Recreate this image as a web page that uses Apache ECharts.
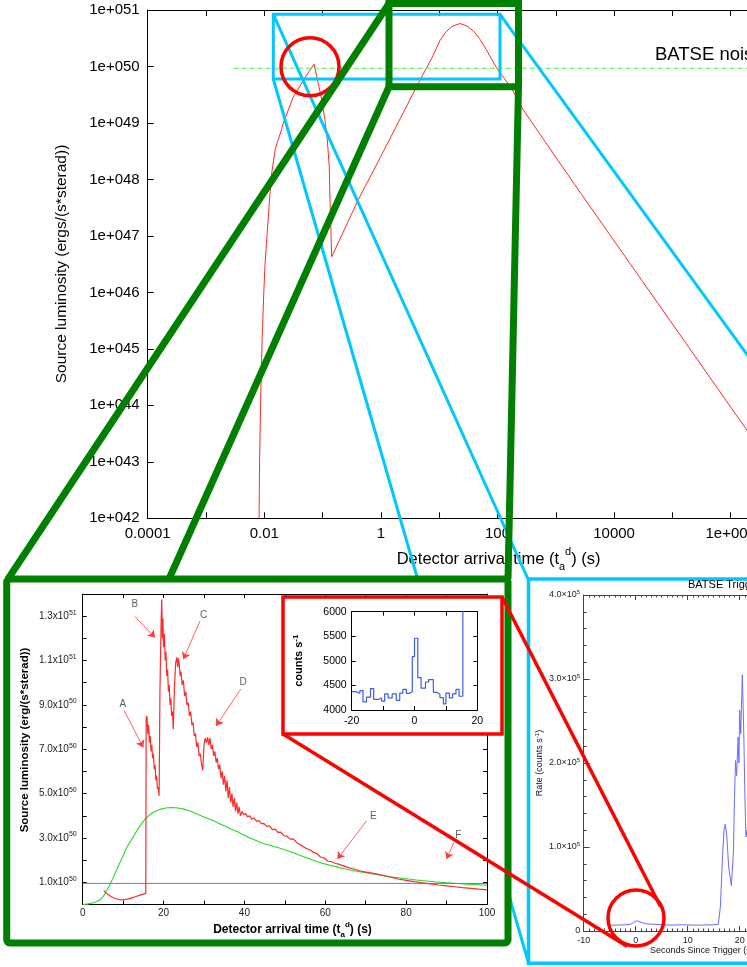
<!DOCTYPE html>
<html><head><meta charset="utf-8">
<script src="https://cdn.jsdelivr.net/npm/echarts@6/dist/echarts.min.js"></script>
<style>html,body{margin:0;padding:0;background:#fff;overflow:hidden}#c{width:747px;height:967px}</style>
</head><body><div id="c"></div>
<script>
const FONT = '"Liberation Sans", Arial, Helvetica, sans-serif';

// ---------- Main log-log chart (axes in decades: log10 of seconds / of luminosity) ----------
const mainXMinExp = -4, mainXMaxExp = 8;
const mainYMinExp = 42, mainYMaxExp = 51;
const mainCurveX = [0.0081, 0.0083, 0.0087, 0.0092, 0.0098, 0.0103, 0.011, 0.0122, 0.0134, 0.0155, 0.02, 0.0212, 0.0314, 0.0533, 0.0713, 0.0843, 0.0966, 0.110, 0.1205, 0.130, 0.134, 0.139, 0.143,
  0.409, 1.0, 4.69, 7.5, 10.3, 13, 16.6, 22.7, 29.5, 38.5, 50.1, 65, 97, 175, 277, 2780, 1.9e6, 2.4e7, 5e7];
const mainCurveLogY = [41.8, 43.0, 44.2, 45.2, 46.0, 46.5, 46.93, 47.6, 48.11, 48.55, 48.9, 49.0, 49.46, 49.85, 50.04, 49.70, 49.41, 49.05, 48.70, 48.23, 47.64, 47.1, 46.63,
  47.64, 48.41, 49.76, 50.15, 50.46, 50.61, 50.71, 50.76, 50.72, 50.63, 50.48, 50.29, 49.97, 49.61, 49.23, 47.73, 43.56, 42.0, 41.6];
const noiseLevel = 9.3e49;
const noiseLineX = [0.003, 1e8];
const noiseLabel = 'BATSE noise level';

// ---------- Green inset (linear) : luminosity in units of 1e50 ----------
const insetRedX = [5.2,6,7,8,9,10,11,12,13,14,15,15.6,
  15.7,15.9,16.1,16.3,16.5,16.7,16.9,17.1,17.3,17.5,17.7,17.9,18.1,18.3,18.5,18.7,18.9,
  19.1,19.4,19.55,19.7,19.85,20.0,20.2,20.4,20.6,20.8,21.0,21.2,21.4,21.6,21.8,22.0,22.2,22.4,
  22.7,23.0,23.3,23.5,23.7,23.9,24.1,24.3,24.6,24.9,25.2,25.5,25.8,26.1,26.4,26.7,27.0,27.3,27.6,27.9,28.2,28.5,28.8,29.1,29.4,29.7,
  30.0,30.3,30.6,30.9,31.2,31.5,31.8,32.1,32.4,32.7,33.0,33.3,33.6,33.9,34.2,34.5,34.8,35.1,35.4,35.7,36.0,36.3,36.6,36.9,37.2,37.5,37.8,38.1,38.4,38.7,39.0,39.4,39.8,40.3,40.8,41.3,41.8,42.4,43.0,43.6,44.2,44.8,45.5,46.2,46.9,47.6,48.3,49.0,49.7,50.5,51.3,52.1,52.9,53.7,54.5,55.3,56.1,57.0,57.9,58.8,59.7,60.6,61.5,62.4,63.3,64.5,65.7,67,68.5,70,72,74,76,78,80,82,84,86,88,90,92,94,96,98,100];
const insetRedY = [0.62,0.48,0.36,0.27,0.22,0.21,0.24,0.29,0.35,0.41,0.47,0.5,
  8.4,8.5,7.7,8.1,7.3,7.6,6.9,7.2,6.6,6.8,6.1,6.3,5.6,5.8,5.2,5.3,4.9,
  9.5,12.8,13.75,12.0,12.9,11.6,12.2,11.0,11.4,10.3,10.6,9.6,9.9,9.0,9.3,8.5,8.7,7.9,
  9.8,10.9,11.15,10.7,11.1,10.8,10.3,10.5,9.9,10.1,9.4,9.6,9.0,9.1,8.5,8.7,8.1,8.2,7.6,7.7,7.1,7.3,6.7,6.8,6.3,6.05,
  7.2,7.5,7.3,7.55,7.2,7.5,7.0,7.2,6.7,6.9,6.4,6.6,6.1,6.3,5.7,6.0,5.4,5.8,5.1,5.6,4.8,5.3,4.6,5.0,4.4,4.8,4.2,4.6,4.1,4.4,4.0,4.2,4.05,4.1,3.95,4.0,3.85,3.9,3.75,3.78,3.65,3.66,3.52,3.55,3.38,3.4,3.25,3.26,3.1,3.08,2.95,2.96,2.8,2.7,2.62,2.52,2.48,2.36,2.3,2.14,2.1,1.96,1.93,1.86,1.82,1.74,1.66,1.6,1.52,1.46,1.4,1.33,1.24,1.15,1.09,1.03,0.98,0.93,0.88,0.84,0.8,0.76,0.73,0.69,0.66,0.63,0.6];
const insetGreenX = [0,2,4,5,6,7,8,9,10,11,12,13,14,15,16,17,18,19,20,21,22,23,24,26,28,30,32,34,36,38,40,42,44,46,48,50,52,54,56,58,60,65,70,75,80,85,90,95,100];
const insetGreenY = [0,0.05,0.18,0.35,0.65,1.0,1.4,1.8,2.2,2.6,2.9,3.2,3.5,3.75,3.95,4.1,4.2,4.28,4.33,4.36,4.37,4.36,4.34,4.25,4.1,3.95,3.8,3.63,3.46,3.3,3.12,2.95,2.8,2.68,2.58,2.46,2.34,2.2,2.07,1.93,1.82,1.6,1.43,1.28,1.16,1.06,0.98,0.92,0.87];
const insetBlueX = [0, 100];
const insetBlueLevel = 0.95;
const annotLetters = ['A','B','C','D','E','F'];
const annotLetterX = [9.9, 12.9, 29.9, 39.7, 71.9, 92.9];
const annotLetterY = [9.03, 13.54, 13.04, 10.0, 3.97, 3.1];
const arrowFromX = [10.2, 12.9, 29.0, 39.1, 70.2, 91.8];
const arrowFromY = [8.76, 12.98, 12.78, 9.71, 3.77, 2.80];
const arrowToX = [15.0, 17.9, 24.9, 33.0, 63.0, 90.0];
const arrowToY = [7.08, 12.04, 11.06, 8.05, 2.05, 2.05];

// ---------- Counts inset (step histogram) ----------
const countsT = [-20.0,-18.7,-17.4,-16.4,-15.3,-14.0,-13.0,-11.6,-10.5,-9.5,-8.4,-7.1,-5.8,-4.7,-3.7,-2.6,-1.6,-0.7,0.0,1.05,2.1,3.5,4.5,6.0,7.1,8.1,9.2,10.0,11.1,12.1,13.2,14.2,15.4];
const countsV = [4374,4340,4395,4165,4260,4435,4215,4245,4180,4330,4245,4330,4195,4345,4420,4340,4375,5085,5460,4660,4445,4570,4620,4360,4320,4250,4125,4345,4245,4330,4420,4280,6500];

// ---------- BATSE trigger panel : rate in units of 1e5 counts/s ----------
const batseT = [-4.8,-3.5,-2,-1,-0.4,0.1,0.6,1.2,2,3.5,5,7,9,11,13,15,15.9,16.3,16.7,17.0,17.2,17.5,17.9,18.4,18.8,19.0,19.2,19.4,19.7,19.85,20.0,20.2,20.5,20.65,20.8,21.0,21.2,21.4,21.6];
const batseRate = [0.07,0.07,0.075,0.08,0.1,0.12,0.115,0.1,0.085,0.08,0.075,0.07,0.075,0.07,0.07,0.075,0.08,0.3,0.9,1.2,1.27,1.15,0.75,0.54,0.95,1.6,2.03,1.85,2.31,2.0,2.63,2.35,3.05,2.7,2.31,1.6,1.12,1.2,1.05];

// ---------- helpers ----------
function mainXLabel(e){
  e = Math.round(e);
  if (e % 2 !== 0) return '';
  if (e < 0) return Math.pow(10, e).toFixed(-e);
  if (e < 6) return String(Math.round(Math.pow(10, e)));
  return '1e+' + String(e).padStart(3, '0');
}
function mainYLabel(e){
  return '1e+' + String(Math.round(e)).padStart(3, '0');
}
function insetYLabel(v){
  const n = Math.round(v);
  if (n % 2 === 0) return '';
  if (n < 10) return '{m|' + n + '.0x10}{s|50}';
  return '{m|' + (n / 10).toFixed(1) + 'x10}{s|51}';
}
function batseYLabel(v){
  const n = Math.round(v);
  if (n === 0) return '0';
  return '{m|' + n.toFixed(1) + '\u00d710}{s|5}';
}

const RED = '#ff0000', GREEN = '#008000', CYAN = '#00c8ff';

function frameAxis(extra){
  return Object.assign({axisLine:{show:true, onZero:false, lineStyle:{color:'#000', width:1}}, splitLine:{show:false}}, extra);
}

const xAxes = [
  frameAxis({gridIndex:0, type:'value', min:mainXMinExp, max:mainXMaxExp, interval:1, zlevel:0,
    axisTick:{show:true, inside:true, length:6, lineStyle:{color:'#000'}},
    axisLabel:{show:true, margin:8, fontSize:15, color:'#000', fontFamily:FONT, formatter:mainXLabel, showMinLabel:true}}),
  frameAxis({gridIndex:0, type:'value', min:mainXMinExp, max:mainXMaxExp, interval:1, position:'top', zlevel:0,
    axisTick:{show:true, inside:true, length:6, lineStyle:{color:'#000'}}, axisLabel:{show:false}}),
  frameAxis({gridIndex:1, type:'value', min:0, max:100, interval:10, zlevel:3,
    axisTick:{show:true, inside:true, length:4, lineStyle:{color:'#000'}},
    axisLabel:{show:true, margin:4, fontSize:10, color:'#222', fontFamily:FONT, formatter:v => (v % 20 === 0 ? String(v) : '')}}),
  frameAxis({gridIndex:1, type:'value', min:0, max:100, interval:10, position:'top', zlevel:3,
    axisTick:{show:true, inside:true, length:4, lineStyle:{color:'#000'}}, axisLabel:{show:false}}),
  frameAxis({gridIndex:2, type:'value', min:-20, max:20, interval:10, zlevel:5,
    axisTick:{show:true, inside:true, length:4, lineStyle:{color:'#000'}},
    axisLabel:{show:true, margin:6, fontSize:10.5, color:'#000', fontFamily:FONT, formatter:v => (v % 20 === 0 ? String(v) : '')}}),
  frameAxis({gridIndex:2, type:'value', min:-20, max:20, interval:10, position:'top', zlevel:5,
    axisTick:{show:true, inside:true, length:4, lineStyle:{color:'#000'}}, axisLabel:{show:false}}),
  frameAxis({gridIndex:3, type:'value', min:-10, max:50, interval:10, zlevel:3,
    axisLine:{show:true, onZero:false, lineStyle:{color:'#444', width:1}},
    axisTick:{show:true, inside:true, length:5, lineStyle:{color:'#444'}},
    minorTick:{show:true, splitNumber:10, length:2.5, lineStyle:{color:'#444'}},
    axisLabel:{show:true, margin:5, fontSize:9, color:'#222', fontFamily:FONT}}),
  frameAxis({gridIndex:3, type:'value', min:-10, max:50, interval:10, position:'top', zlevel:3,
    axisLine:{show:true, onZero:false, lineStyle:{color:'#444', width:1}},
    axisTick:{show:true, inside:true, length:5, lineStyle:{color:'#444'}},
    minorTick:{show:true, splitNumber:10, length:2.5, lineStyle:{color:'#444'}}, axisLabel:{show:false}})
];

const yAxes = [
  frameAxis({gridIndex:0, type:'value', min:mainYMinExp, max:mainYMaxExp, interval:1, zlevel:0,
    axisTick:{show:true, inside:true, length:6, lineStyle:{color:'#000'}},
    axisLabel:{show:true, margin:8, fontSize:15, color:'#000', fontFamily:FONT, formatter:mainYLabel}}),
  frameAxis({gridIndex:1, type:'value', min:0, max:14, interval:1, zlevel:3,
    axisTick:{show:true, inside:true, length:4, lineStyle:{color:'#000'}},
    axisLabel:{show:true, margin:6, color:'#222', formatter:insetYLabel,
      rich:{m:{fontSize:10, fontFamily:FONT, color:'#222', lineHeight:14}, s:{fontSize:7, fontFamily:FONT, color:'#222', verticalAlign:'top', lineHeight:8}}}}),
  frameAxis({gridIndex:1, type:'value', min:0, max:14, interval:1, position:'right', zlevel:3,
    axisTick:{show:true, inside:true, length:4, lineStyle:{color:'#000'}}, axisLabel:{show:false}}),
  frameAxis({gridIndex:2, type:'value', min:4000, max:6000, interval:500, zlevel:5,
    axisTick:{show:true, inside:true, length:4, lineStyle:{color:'#000'}},
    axisLabel:{show:true, margin:5, fontSize:10.5, color:'#000', fontFamily:FONT, formatter:v => String(v)}}),
  frameAxis({gridIndex:2, type:'value', min:4000, max:6000, interval:500, position:'right', zlevel:5,
    axisTick:{show:true, inside:true, length:4, lineStyle:{color:'#000'}}, axisLabel:{show:false}}),
  frameAxis({gridIndex:3, type:'value', min:0, max:4, interval:1, zlevel:3,
    axisLine:{show:true, onZero:false, lineStyle:{color:'#444', width:1}},
    axisTick:{show:true, inside:true, length:6, lineStyle:{color:'#444'}},
    minorTick:{show:true, splitNumber:5, length:3, lineStyle:{color:'#444'}},
    axisLabel:{show:true, margin:3.5, color:'#222', formatter:batseYLabel, fontSize:9, fontFamily:FONT,
      rich:{m:{fontSize:9, fontFamily:FONT, color:'#222', lineHeight:12}, s:{fontSize:6, fontFamily:FONT, color:'#222', verticalAlign:'top', lineHeight:7}}}})
];

const series = [
  {type:'line', name:'main', xAxisIndex:0, yAxisIndex:0, zlevel:0, z:2, symbol:'none', silent:true,
   data: mainCurveX.map((x, i) => [Math.log10(x), mainCurveLogY[i]]),
   lineStyle:{color:'#ff2a2a', width:1}},
  {type:'line', name:'noise', xAxisIndex:0, yAxisIndex:0, zlevel:0, z:2, symbol:'none', silent:true,
   data: noiseLineX.map(x => [Math.log10(x), Math.log10(noiseLevel)]),
   lineStyle:{color:'#55ee55', width:1, type:[5,3]}},
  {type:'line', name:'insetRed', xAxisIndex:2, yAxisIndex:1, zlevel:3, z:3, symbol:'none', silent:true,
   data: insetRedX.map((x, i) => [x, insetRedY[i]]),
   lineStyle:{color:'#ff2a2a', width:1.2}},
  {type:'lines', name:'arrows', coordinateSystem:'cartesian2d', xAxisIndex:2, yAxisIndex:1, zlevel:3, z:4, silent:true,
   symbol:['none','arrow'], symbolSize:7,
   lineStyle:{color:'#ff3a3a', width:0.8, opacity:1, curveness:0},
   data: arrowFromX.map((x, i) => ({coords:[[x, arrowFromY[i]], [arrowToX[i], arrowToY[i]]]}))},
  {type:'line', name:'insetGreen', xAxisIndex:2, yAxisIndex:1, zlevel:3, z:2, symbol:'none', silent:true, smooth:true,
   data: insetGreenX.map((x, i) => [x, insetGreenY[i]]),
   lineStyle:{color:'#22dd22', width:1.1}},
  {type:'line', name:'insetBlue', xAxisIndex:2, yAxisIndex:1, zlevel:3, z:2, symbol:'none', silent:true,
   data: insetBlueX.map(x => [x, insetBlueLevel]),
   lineStyle:{color:'#6f6fff', width:1}},
  {type:'scatter', name:'letters', xAxisIndex:2, yAxisIndex:1, zlevel:3, z:4, symbolSize:1, silent:true,
   itemStyle:{color:'rgba(0,0,0,0)'},
   data: annotLetters.map((n, i) => ({name:n, value:[annotLetterX[i], annotLetterY[i]]})),
   label:{show:true, position:'inside', formatter:'{b}', fontSize:10, color:'#333', fontFamily:FONT}},
  {type:'line', name:'counts', xAxisIndex:4, yAxisIndex:3, zlevel:5, z:2, symbol:'none', silent:true, step:'end',
   data: countsT.map((t, i) => [t, countsV[i]]),
   lineStyle:{color:'#3a5ef0', width:1.2}},
  {type:'line', name:'batse', xAxisIndex:6, yAxisIndex:5, zlevel:3, z:2, symbol:'none', silent:true,
   data: batseT.map((t, i) => [t, batseRate[i]]),
   lineStyle:{color:'#6c6cff', width:1}}
];

function txt(x, y, text, style, extra){
  return Object.assign({type:'text', x:x, y:y, silent:true,
    style:Object.assign({text:text, fontFamily:FONT, fill:'#000'}, style)}, extra || {});
}

const graphics = [
  txt(396.7, 559, '{n|Detector arrival time (t}{sub|a}{sup|d}{n|) (s)}', {align:'left', verticalAlign:'middle',
     rich:{n:{fontSize:16.5, fontFamily:FONT, fill:'#000', lineHeight:26}, sub:{fontSize:11, fontFamily:FONT, fill:'#000', verticalAlign:'bottom', lineHeight:12}, sup:{fontSize:11, fontFamily:FONT, fill:'#000', verticalAlign:'top', lineHeight:12}}}, {zlevel:0, z:5}),
  txt(62, 264, 'Source luminosity (ergs/(s*sterad))', {fontSize:15.5, align:'center', verticalAlign:'middle'}, {rotation:Math.PI/2, zlevel:0, z:5}),
  txt(655, 55, noiseLabel, {fontSize:18.5, align:'left', verticalAlign:'middle'}, {zlevel:0, z:5}),

  {type:'rect', zlevel:1, z:1, silent:true, shape:{x:273.3, y:14.3, width:226.7, height:64.7}, style:{fill:'none', stroke:CYAN, lineWidth:3}},
  {type:'line', zlevel:1, z:1, silent:true, shape:{x1:273.3, y1:14.3, x2:528, y2:579}, style:{stroke:CYAN, lineWidth:3}},
  {type:'line', zlevel:1, z:1, silent:true, shape:{x1:273.3, y1:79, x2:528.5, y2:963}, style:{stroke:CYAN, lineWidth:3}},
  {type:'line', zlevel:1, z:1, silent:true, shape:{x1:500, y1:14.3, x2:910, y2:579}, style:{stroke:CYAN, lineWidth:3}},
  {type:'circle', zlevel:1, z:2, silent:true, shape:{cx:310, cy:66.7, r:29}, style:{fill:'none', stroke:RED, lineWidth:3.5}},
  {type:'rect', zlevel:1, z:3, silent:true, shape:{x:389, y:3.5, width:129.5, height:83.2}, style:{fill:'none', stroke:GREEN, lineWidth:7}},
  {type:'line', zlevel:1, z:3, silent:true, shape:{x1:389, y1:3.5, x2:8, y2:579}, style:{stroke:GREEN, lineWidth:7}},
  {type:'line', zlevel:1, z:3, silent:true, shape:{x1:389, y1:86.7, x2:169, y2:579}, style:{stroke:GREEN, lineWidth:7}},
  {type:'line', zlevel:1, z:3, silent:true, shape:{x1:518.5, y1:86.7, x2:508, y2:579}, style:{stroke:GREEN, lineWidth:7}},

  {type:'rect', zlevel:2, z:1, silent:true, shape:{x:6.7, y:579, width:501.3, height:364, r:3}, style:{fill:'#fff', stroke:GREEN, lineWidth:7}},
  {type:'rect', zlevel:2, z:1, silent:true, shape:{x:528.5, y:579, width:380, height:384.3}, style:{fill:'#fff', stroke:CYAN, lineWidth:3.5}},

  txt(25, 740, 'Source luminosity (erg/(s*sterad))', {fontSize:11.5, fontWeight:'bold', align:'center', verticalAlign:'middle'}, {rotation:Math.PI/2, zlevel:3, z:5}),
  txt(292.5, 930, '{n|Detector arrival time (t}{sub|a}{sup|d}{n|) (s)}', {align:'center', verticalAlign:'middle',
     rich:{n:{fontSize:12, fontWeight:'bold', fontFamily:FONT, fill:'#000', lineHeight:18}, sub:{fontSize:8, fontWeight:'bold', fontFamily:FONT, fill:'#000', verticalAlign:'bottom', lineHeight:9}, sup:{fontSize:8, fontWeight:'bold', fontFamily:FONT, fill:'#000', verticalAlign:'top', lineHeight:9}}}, {zlevel:3, z:5}),

  txt(688, 585, 'BATSE Trigger', {fontSize:11, align:'left', verticalAlign:'middle'}, {zlevel:3, z:5}),
  txt(650, 950.7, 'Seconds Since Trigger (s)', {fontSize:9, align:'left', verticalAlign:'middle', fill:'#111'}, {zlevel:3, z:5}),
  txt(540, 763, '{n|Rate (counts s}{s|-1}{n|)}', {align:'center', verticalAlign:'middle',
     rich:{n:{fontSize:9, fontFamily:FONT, fill:'#111', lineHeight:12}, s:{fontSize:6, fontFamily:FONT, fill:'#111', verticalAlign:'top', lineHeight:7}}}, {rotation:Math.PI/2, zlevel:3, z:5}),

  {type:'rect', zlevel:4, z:1, silent:true, shape:{x:283, y:597, width:219, height:137}, style:{fill:'#fff', stroke:RED, lineWidth:3.5}},
  {type:'line', zlevel:4, z:2, silent:true, shape:{x1:502, y1:597, x2:660.5, y2:906.5}, style:{stroke:RED, lineWidth:3.5}},
  {type:'line', zlevel:4, z:2, silent:true, shape:{x1:283, y1:734, x2:627, y2:946.3}, style:{stroke:RED, lineWidth:3.5}},
  {type:'circle', zlevel:4, z:2, silent:true, shape:{cx:636, cy:918, r:28}, style:{fill:'none', stroke:RED, lineWidth:3.5}},

  txt(299.3, 660.7, '{n|counts s}{s|-1}', {align:'center', verticalAlign:'middle',
     rich:{n:{fontSize:11, fontWeight:'bold', fontFamily:FONT, fill:'#000', lineHeight:15}, s:{fontSize:8, fontWeight:'bold', fontFamily:FONT, fill:'#000', verticalAlign:'top', lineHeight:9}}}, {rotation:Math.PI/2, zlevel:5, z:5})
];

const option = {
  animation:false,
  backgroundColor:'#fff',
  textStyle:{fontFamily:FONT},
  grid:[
    {left:147.7, top:10, width:699.6, height:508.3, containLabel:false, outerBoundsMode:'none'},
    {left:82.7, top:594, width:404.3, height:310.5, containLabel:false, outerBoundsMode:'none'},
    {left:351.7, top:611.7, width:125.6, height:98.3, containLabel:false, outerBoundsMode:'none'},
    {left:583.7, top:595, width:312, height:336, containLabel:false, outerBoundsMode:'none'}
  ],
  xAxis:xAxes,
  yAxis:yAxes,
  series:series,
  graphic:{elements:graphics}
};

const chart = echarts.init(document.getElementById('c'), null, {renderer:'canvas', width:747, height:967});
chart.setOption(option);
</script>
</body></html>
